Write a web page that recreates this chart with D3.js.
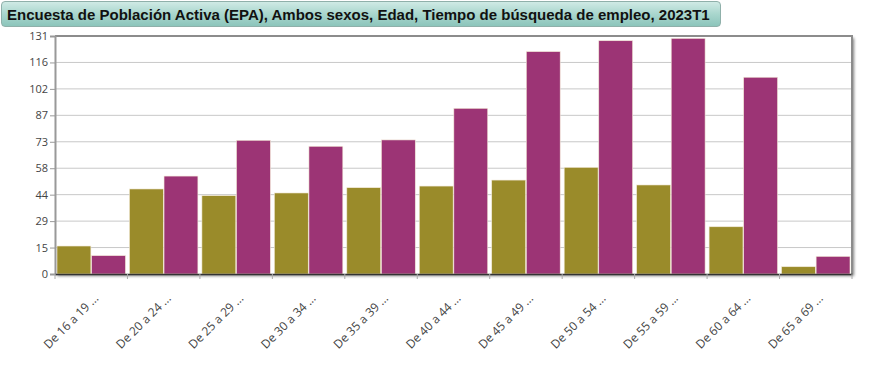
<!DOCTYPE html>
<html>
<head>
<meta charset="utf-8">
<script src="https://cdn.jsdelivr.net/npm/d3@7"></script>
<style>
  body { margin: 0; background: #fff; font-family: "Open Sans", "DejaVu Sans", sans-serif; }
  .title-bar {
    position: absolute; left: 1px; top: 1px; width: 720px; height: 26px;
    border: 1px solid #8fb0aa; border-radius: 4px;
    background: linear-gradient(to bottom, #cfeae5 0%, #a9d6cd 50%, #8cc5bb 100%);
    font-family: "Liberation Sans", Arial, sans-serif; font-weight: bold; font-size: 15px;
    line-height: 25px; padding-left: 5px; color: #111; box-sizing: border-box;
  }
  svg { position: absolute; left: 0; top: 0; }
</style>
</head>
<body>
<div class="title-bar">Encuesta de Población Activa (EPA), Ambos sexos, Edad, Tiempo de búsqueda de empleo, 2023T1</div>
<svg id="chart" width="895" height="371"></svg>
<script>
// age groups
var categories = ["De 16 a 19 ...", "De 20 a 24 ...", "De 25 a 29 ...", "De 30 a 34 ...",
  "De 35 a 39 ...", "De 40 a 44 ...", "De 45 a 49 ...", "De 50 a 54 ...",
  "De 55 a 59 ...", "De 60 a 64 ...", "De 65 a 69 ..."];
var olive = [15.4, 46.8, 43.1, 44.6, 47.5, 48.4, 51.7, 58.7, 49.0, 26.0, 4.0];
var purple = [10.1, 53.9, 73.6, 70.3, 73.8, 91.2, 122.4, 128.4, 129.7, 108.3, 9.7];
var yTicks = [0, 14.56, 29.11, 43.67, 58.22, 72.78, 87.33, 101.89, 116.44, 131];
var seriesColors = ["#9a8b2a", "#9c3475"];

var margin = {left: 55, top: 36, right: 43, bottom: 97};
var svg = d3.select("#chart");
var w = 895 - margin.left - margin.right;
var h = 371 - margin.top - margin.bottom;

var x = d3.scaleBand().domain(categories).range([0, w]).paddingInner(0).paddingOuter(0);
var y = d3.scaleLinear().domain([0, 131]).range([h, 0]);

var defs = svg.append("defs");
var f = defs.append("filter").attr("id", "shadow").attr("x", "-5%").attr("y", "-5%")
  .attr("width", "110%").attr("height", "110%");
f.append("feGaussianBlur").attr("in", "SourceAlpha").attr("stdDeviation", 1.5);
f.append("feOffset").attr("dx", 2).attr("dy", 2).attr("result", "b");
f.append("feComponentTransfer").append("feFuncA").attr("type", "linear").attr("slope", 0.5);
var m = f.append("feMerge");
m.append("feMergeNode");
m.append("feMergeNode").attr("in", "SourceGraphic");

var g = svg.append("g").attr("transform", `translate(${margin.left},${margin.top})`);

// plot background with shadow
g.append("rect").attr("width", w).attr("height", h)
  .attr("fill", "#fff").attr("filter", "url(#shadow)");

// gridlines
g.selectAll("line.grid").data(yTicks.slice(1)).enter()
  .append("line").attr("class", "grid")
  .attr("x1", 0).attr("x2", w)
  .attr("y1", d => y(d)).attr("y2", d => y(d))
  .attr("stroke", "#c8c8c8").attr("stroke-width", 1);

// bars
var sub = d3.scaleBand().domain([0, 1]).range([2, x.bandwidth() - 2]).paddingInner(0.02);
var data = [];
categories.forEach(function(c, i) {
  data.push({c: c, s: 0, v: olive[i]});
  data.push({c: c, s: 1, v: purple[i]});
});
g.selectAll("rect.bar").data(data).enter()
  .append("rect").attr("class", "bar")
  .attr("x", d => x(d.c) + sub(d.s))
  .attr("width", sub.bandwidth())
  .attr("y", d => y(d.v))
  .attr("height", d => y(0) - y(d.v))
  .attr("fill", d => seriesColors[d.s])
  .attr("stroke", "#f3ead8").attr("stroke-width", 0.6);

// frame top/right
g.append("path").attr("d", `M0,0H${w}V${h}`)
  .attr("fill", "none").attr("stroke", "#8c8c8c").attr("stroke-width", 2);

// y axis
var yAxis = g.append("g").call(d3.axisLeft(y).tickValues(yTicks).tickFormat(d3.format(".0f")).tickSizeOuter(0).tickSize(5));
yAxis.select(".domain").attr("stroke", "#999").attr("stroke-width", 2);
yAxis.selectAll(".tick line").attr("stroke", "#999");
yAxis.selectAll("text").attr("fill", "#444").style("font-size", "11px").style("font-family", "Open Sans, sans-serif").attr("x", -7);

// x axis
var xAxis = g.append("g").attr("transform", `translate(0,${h})`)
  .call(d3.axisBottom(x).tickSize(0).tickSizeOuter(0));
xAxis.select(".domain").attr("stroke", "#333").attr("stroke-width", 1.5);
xAxis.selectAll(".tick text")
  .attr("fill", "#444").style("font-size", "12px").style("font-family", "Open Sans, sans-serif")
  .attr("text-anchor", "end")
  .attr("transform", "translate(5,22) rotate(-45)")
  .attr("dy", "0.35em").attr("y", 0).attr("x", 0);
// group boundary ticks
g.selectAll("line.xtick").data(categories.concat([null])).enter()
  .append("line").attr("class", "xtick")
  .attr("x1", (d, i) => i * x.step()).attr("x2", (d, i) => i * x.step())
  .attr("y1", h).attr("y2", h + 5).attr("stroke", "#aaa");
</script>
</body>
</html>
